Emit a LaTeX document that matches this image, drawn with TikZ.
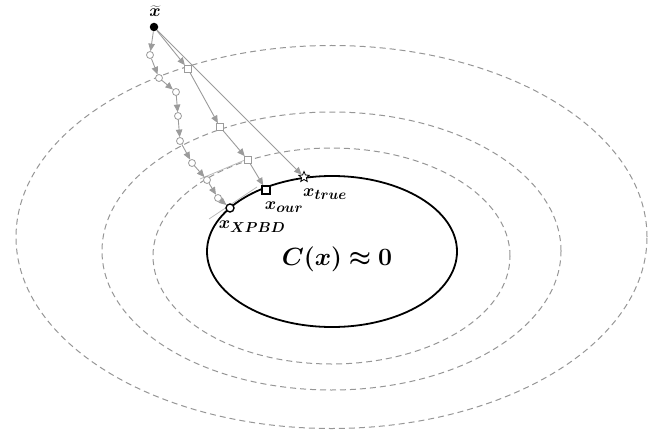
\documentclass[tikz,border=0pt]{standalone}
\usepackage{bm}
\usetikzlibrary{arrows.meta,shapes.geometric}
\DeclareMathSizes{18}{18}{13.5}{10}
\DeclareMathSizes{26}{26}{18}{13}
\definecolor{gline}{RGB}{150,150,150}
\definecolor{garrow}{RGB}{155,155,155}
\definecolor{gtan}{RGB}{185,185,185}
\begin{document}
\begin{tikzpicture}[x=1pt,y=-1pt,
  lvl/.style={draw=gline, line width=1pt, dash pattern=on 6pt off 4pt},
  cstr/.style={draw=black, line width=1.8pt},
  pc/.style={circle, draw=garrow, fill=white, inner sep=0pt, minimum size=7pt, line width=0.8pt},
  ps/.style={rectangle, draw=garrow, fill=white, inner sep=0pt, minimum size=7pt, line width=0.8pt},
  arr/.style={draw=garrow, line width=0.9pt, -{Triangle[length=7.5pt,width=6.5pt]}},
  tan/.style={draw=gtan, line width=0.8pt},
  lab/.style={inner sep=0pt, font=\fontsize{18}{21}\selectfont},
  biglab/.style={inner sep=0pt, font=\fontsize{26}{30}\selectfont}
]
\useasboundingbox (0,0) rectangle (668,433);
% level sets
\draw[lvl] (331.5,237) ellipse [x radius=315.5pt, y radius=191.5pt];
\draw[lvl] (331.5,251) ellipse [x radius=229.5pt, y radius=139pt];
\draw[lvl] (331.5,256) ellipse [x radius=178.5pt, y radius=108pt];
\draw[cstr] (332,251.5) ellipse [x radius=125pt, y radius=75.5pt];
% tangent lines
\draw[tan] (200,179) -- (245,160);
\draw[tan] (209,219) -- (257,187);
% start
\node[circle, fill=black, inner sep=0pt, minimum size=8.5pt] (x0) at (154,27) {};
\node[lab] (lx0) at (155,11) {$\widetilde{\bm{x}}$};
% XPBD path
\node[pc] (p1) at (150,55) {};
\node[pc] (p2) at (159,78) {};
\node[pc] (p3) at (176,92) {};
\node[pc] (p4) at (178,116) {};
\node[pc] (p5) at (180,141) {};
\node[pc] (p6) at (192,163) {};
\node[pc] (p7) at (207,180) {};
\node[pc] (p8) at (218,198) {};
\node[circle, draw=black, fill=white, inner sep=0pt, minimum size=8pt, line width=1.4pt] (pf) at (230,208) {};
% our path
\node[ps] (q1) at (188,69) {};
\node[ps] (q2) at (220,127) {};
\node[ps] (q3) at (248,160) {};
\node[rectangle, draw=black, fill=white, inner sep=0pt, minimum size=8pt, line width=1.4pt] (qf) at (266,190) {};
% true
\node[star, star points=5, star point ratio=2.2, draw=black, fill=white, inner sep=0pt, minimum size=11pt, line width=0.8pt] (st) at (304,177) {};
% arrows
\draw[arr] (x0) -- (p1);
\draw[arr] (p1) -- (p2);
\draw[arr] (p2) -- (p3);
\draw[arr] (p3) -- (p4);
\draw[arr] (p4) -- (p5);
\draw[arr] (p5) -- (p6);
\draw[arr] (p6) -- (p7);
\draw[arr] (p7) -- (p8);
\draw[arr] (p8) -- (pf);
\draw[arr] (x0) -- (q1);
\draw[arr] (q1) -- (q2);
\draw[arr] (q2) -- (q3);
\draw[arr] (q3) -- (qf);
\draw[arr] (x0) -- (st);
% labels
\node[lab] (lt) at (325,194) {$\bm{x}_{\bm{true}}$};
\node[lab] (lo) at (284,207) {$\bm{x}_{\bm{our}}$};
\node[lab] (lp) at (252,227) {$\bm{x}_{\bm{XPBD}}$};
\node[biglab] (lc) at (337,259) {$\bm{C(x)\approx 0}$};
\end{tikzpicture}
\end{document}
